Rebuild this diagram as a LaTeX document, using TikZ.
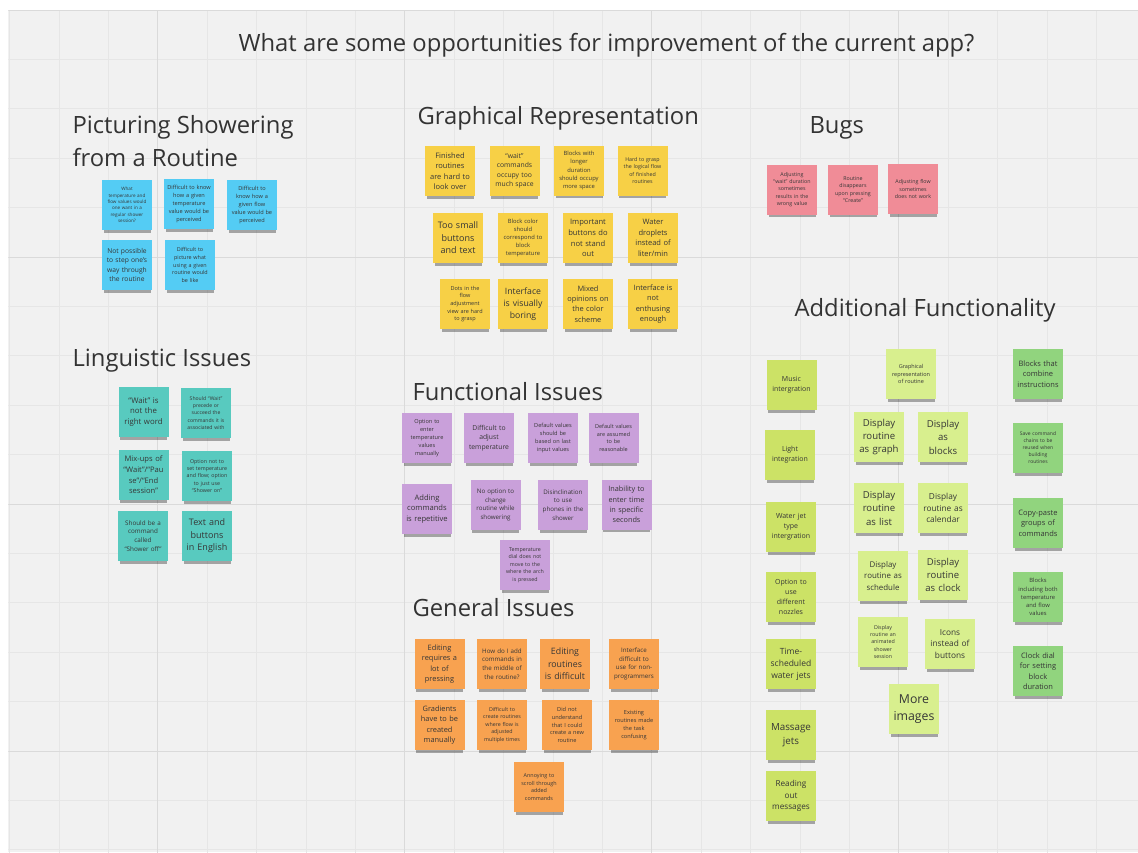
\documentclass[tikz,border=0pt]{standalone}
\usepackage{fontspec}
\setmainfont{Open Sans}
\usetikzlibrary{shadows}

\definecolor{board}{HTML}{F1F1F1}
\definecolor{gridlight}{HTML}{E6E6E6}
\definecolor{griddark}{HTML}{DADADA}
\definecolor{heading}{HTML}{333333}
\definecolor{inktext}{HTML}{363636}
\definecolor{notecyan}{HTML}{54CCF4}
\definecolor{noteteal}{HTML}{58CABF}
\definecolor{noteyellow}{HTML}{F7D046}
\definecolor{notepink}{HTML}{F08C97}
\definecolor{notepurple}{HTML}{C9A0DA}
\definecolor{noteorange}{HTML}{F8A250}
\definecolor{notelime}{HTML}{CCE266}
\definecolor{notepale}{HTML}{D8EF8E}
\definecolor{notegreen}{HTML}{91D47E}

\begin{document}
\begin{tikzpicture}[x=1pt, y=-1pt,
  sticky/.style={fill=#1, minimum width=50pt, minimum height=50pt, text width=48pt,
    inner sep=0pt, align=center, text=inktext,
    drop shadow={shadow xshift=0pt, shadow yshift=-4.5pt, shadow scale=0.94, opacity=0.32, fill=black}},
  fs/.style={font=\fontsize{#1}{\fpeval{1.4*#1}}\selectfont},
  head/.style={anchor=base west, align=left, text=heading, font=\fontsize{23.8}{33}\selectfont}]
\useasboundingbox (0,0) rectangle (1138,852);
\fill[white] (0,0) rectangle (1138,852);
\fill[board] (8.3,10) rectangle (1138,852);
\begin{scope}
\clip (8.3,10) rectangle (1138,852);
\draw[gridlight, line width=0.8pt, shift={(9.5,10)}] (-100,1000) grid[step=49.4pt] (1300,-100);
\draw[griddark, line width=1pt, shift={(157.7,10)}] (-300,1000) grid[step=247pt] (1300,0);
\end{scope}

\node[anchor=base, text=heading, font=\fontsize{23.8}{30}\selectfont] (title) at (606.5,51.5) {What are some opportunities for improvement of the current app?};

\node[head] (hpicture) at (69,166.7) {Picturing Showering\\from a Routine};
\node[head] (hgraphic) at (414,124.5) {Graphical Representation};
\node[head] (hbugs) at (806,133.5) {Bugs};
\node[head] (hlingo) at (69,366.5) {Linguistic Issues};
\node[head] (hfunc) at (409,400.5) {Functional Issues};
\node[head] (hgeneral) at (409,616.5) {General Issues};
\node[head] (hextra) at (791,316.5) {Additional Functionality};

\node[sticky=notecyan, fs=4.6] (pic1) at (127,205) {What\\temperature and\\flow values would\\one want in a\\regular shower\\session?};
\node[sticky=notecyan, fs=5.6] (pic2) at (189,204) {Difficult to know\\how a given\\temperature\\value would be\\perceived};
\node[sticky=notecyan, fs=5.6] (pic3) at (252,205) {Difficult to\\know how a\\given flow\\value would be\\perceived};
\node[sticky=notecyan, fs=6.7] (pic4) at (127,265) {Not possible\\to step one’s\\way through\\the routine};
\node[sticky=notecyan, fs=5.4] (pic5) at (190,265) {Difficult to\\picture what\\using a given\\routine would\\be like};

\node[sticky=noteteal, fs=7.8] (lingo1) at (143.5,412) {“Wait” is\\not the\\right word};
\node[sticky=noteteal, fs=5.1] (lingo2) at (206,413) {Should “Wait”\\precede or\\succeed the\\commands it is\\associated with};
\node[sticky=noteteal, fs=7.6] (lingo3) at (143.5,475) {Mix-ups of\\“Wait”/“Pau\\se”/“End\\session”};
\node[sticky=noteteal, fs=5.3] (lingo4) at (207,476) {Option not to\\set temperature\\and flow; option\\to just use\\“Shower on”};
\node[sticky=noteteal, fs=6.3] (lingo5) at (143,536) {Should be a\\command\\called\\“Shower off”};
\node[sticky=noteteal, fs=9] (lingo6) at (207,536) {Text and\\buttons\\in English};

\node[sticky=noteyellow, fs=7.5] (graph1) at (450,171) {Finished\\routines\\are hard to\\look over};
\node[sticky=noteyellow, fs=6.8] (graph2) at (514.5,171) {“wait”\\commands\\occupy too\\much space};
\node[sticky=noteyellow, fs=5.8] (graph3) at (579,170.5) {Blocks with\\longer\\duration\\should occupy\\more space};
\node[sticky=noteyellow, fs=5.3] (graph4) at (642.5,170.5) {Hard to grasp\\the logical flow\\of finished\\routines};
\node[sticky=noteyellow, fs=9] (graph5) at (458,238) {Too small\\buttons\\and text};
\node[sticky=noteyellow, fs=5.8] (graph6) at (523,238) {Block color\\should\\correspond to\\block\\temperature};
\node[sticky=noteyellow, fs=7.6] (graph7) at (588,238) {Important\\buttons do\\not stand\\out};
\node[sticky=noteyellow, fs=7.5] (graph8) at (653,238) {Water\\droplets\\instead of\\liter/min};
\node[sticky=noteyellow, fs=5.5] (graph9) at (465,304) {Dots in the\\flow\\adjustment\\view are hard\\to grasp};
\node[sticky=noteyellow, fs=8.7] (graph10) at (523,304) {Interface\\is visually\\boring};
\node[sticky=noteyellow, fs=7.4] (graph11) at (588,304) {Mixed\\opinions on\\the color\\scheme};
\node[sticky=noteyellow, fs=7.4] (graph12) at (653,304) {Interface is\\not\\enthusing\\enough};

\node[sticky=notepink, fs=5.3] (bug1) at (792,189.5) {Adjusting\\“wait” duration\\sometimes\\results in the\\wrong value};
\node[sticky=notepink, fs=5.3] (bug2) at (853,189.5) {Routine\\disappears\\upon pressing\\“Create”};
\node[sticky=notepink, fs=5.3] (bug3) at (913,189) {Adjusting flow\\sometimes\\does not work};

\node[sticky=notepurple, fs=5.6] (func1) at (427,438) {Option to\\enter\\temperature\\values\\manually};
\node[sticky=notepurple, fs=6.8] (func2) at (489,438) {Difficult to\\adjust\\temperature};
\node[sticky=notepurple, fs=5.6] (func3) at (553,438) {Default values\\should be\\based on last\\input values};
\node[sticky=notepurple, fs=5.5] (func4) at (613.5,438) {Default values\\are assumed\\to be\\reasonable};
\node[sticky=notepurple, fs=7.6] (func5) at (427,509) {Adding\\commands\\is repetitive};
\node[sticky=notepurple, fs=6.2] (func6) at (495.5,505) {No option to\\change\\routine while\\showering};
\node[sticky=notepurple, fs=6.2] (func7) at (563,505) {Disinclination\\to use\\phones in the\\shower};
\node[sticky=notepurple, fs=7.3] (func8) at (626.5,504.5) {Inability to\\enter time\\in specific\\seconds};
\node[sticky=notepurple, fs=5.3] (func9) at (525,565) {Temperature\\dial does not\\move to the\\where the arch\\is pressed};

\node[sticky=noteorange, fs=7.4] (gen1) at (439.5,664) {Editing\\requires a\\lot of\\pressing};
\node[sticky=noteorange, fs=6.2] (gen2) at (502,664) {How do I add\\commands in\\the middle of\\the routine?};
\node[sticky=noteorange, fs=8.8] (gen3) at (565,664) {Editing\\routines\\is difficult};
\node[sticky=noteorange, fs=6.2] (gen4) at (634,664) {Interface\\difficult to\\use for non-\\programmers};
\node[sticky=noteorange, fs=7.4] (gen5) at (439.5,725) {Gradients\\have to be\\created\\manually};
\node[sticky=noteorange, fs=5.3] (gen6) at (502,725) {Difficult to\\create routines\\where flow is\\adjusted\\multiple times};
\node[sticky=noteorange, fs=5.6] (gen7) at (567,725) {Did not\\understand\\that I could\\create a new\\routine};
\node[sticky=noteorange, fs=5.6] (gen8) at (634,725) {Existing\\routines made\\the task\\confusing};
\node[sticky=noteorange, fs=5.4] (gen9) at (539,787) {Annoying to\\scroll through\\added\\commands};

\node[sticky=notelime, fs=7] (extra1) at (791.5,385) {Music\\intergration};
\node[sticky=notelime, fs=7] (extra2) at (790,455) {Light\\integration};
\node[sticky=notelime, fs=7] (extra3) at (791,527) {Water jet\\type\\intergration};
\node[sticky=notelime, fs=7] (extra4) at (791,597) {Option to\\use\\different\\nozzles};
\node[sticky=notelime, fs=8.5] (extra5) at (791,664) {Time-\\scheduled\\water jets};
\node[sticky=notelime, fs=9.8] (extra6) at (791,735) {Massage\\jets};
\node[sticky=notelime, fs=8.2] (extra7) at (791,796) {Reading\\out\\messages};

\node[sticky=notepale, fs=5.5] (show1) at (911,374) {Graphical\\representation\\of routine};
\node[sticky=notepale, fs=9.6] (show2) at (879,437) {Display\\routine\\as graph};
\node[sticky=notepale, fs=9.6] (show3) at (943,437) {Display\\as\\blocks};
\node[sticky=notepale, fs=9.6] (show4) at (879,508) {Display\\routine\\as list};
\node[sticky=notepale, fs=8.3] (show5) at (943,508) {Display\\routine as\\calendar};
\node[sticky=notepale, fs=7.9] (show6) at (883,576) {Display\\routine as\\schedule};
\node[sticky=notepale, fs=9.5] (show7) at (943,575) {Display\\routine\\as clock};
\node[sticky=notepale, fs=5.3] (show8) at (883,642) {Display\\routine an\\animated\\shower\\session};
\node[sticky=notepale, fs=8.3] (show9) at (950,644) {Icons\\instead of\\buttons};
\node[sticky=notepale, fs=12.3] (show10) at (914,709) {More\\images};

\node[sticky=notegreen, fs=7.5] (block1) at (1038,374) {Blocks that\\combine\\instructions};
\node[sticky=notegreen, fs=5] (block2) at (1038,448) {Save command\\chains to be\\reused when\\building\\routines};
\node[sticky=notegreen, fs=7.5] (block3) at (1038,523) {Copy-paste\\groups of\\commands};
\node[sticky=notegreen, fs=5.8] (block4) at (1038,597) {Blocks\\including both\\temperature\\and flow\\values};
\node[sticky=notegreen, fs=7.5] (block5) at (1038,671) {Clock dial\\for setting\\block\\duration};
\end{tikzpicture}
\end{document}
